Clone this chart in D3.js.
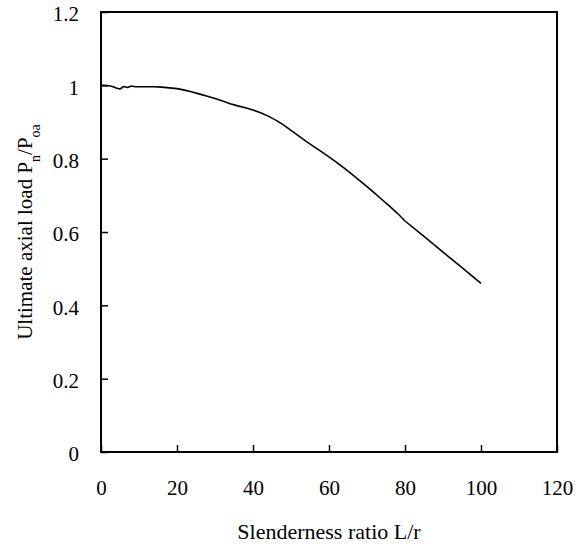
<!DOCTYPE html>
<html>
  <head>
    <meta charset="UTF-8" />
    <script src="https://cdn.jsdelivr.net/npm/d3@7"></script>
    <style>
      body { margin: 0; background: #fff; }
      svg text { font-family: "Liberation Serif", "Times New Roman", serif; fill: #000; }
    </style>
  </head>
  <body>
    <div class="chart"></div>
    <script>
      // values
      let slenderness = [0, 1, 2, 3, 4, 5, 6, 7, 8, 9, 10, 12, 14, 16, 18, 20, 22, 24, 26, 28, 30,
        32, 34, 36, 38, 40, 42, 44, 46, 48, 50, 52, 54, 56, 58, 60, 62, 64, 66, 68, 70,
        72, 74, 76, 78, 80, 85, 90, 95, 100];
      let loadRatio = [1.0, 1.0, 0.999, 0.997, 0.993, 0.99, 0.997, 0.994, 0.998, 0.996, 0.996,
        0.996, 0.996, 0.995, 0.993, 0.991, 0.987, 0.982, 0.976, 0.97, 0.964,
        0.957, 0.95, 0.944, 0.939, 0.933, 0.925, 0.916, 0.905, 0.892, 0.877,
        0.862, 0.847, 0.833, 0.819, 0.805, 0.79, 0.774, 0.758, 0.741, 0.724,
        0.706, 0.688, 0.67, 0.651, 0.63, 0.588, 0.545, 0.503, 0.46];
      let xTicks = [0, 20, 40, 60, 80, 100, 120];
      let yTicks = [0, 0.2, 0.4, 0.6, 0.8, 1, 1.2];

      let width = 578;
      let height = 549;
      let margin = { top: 12, right: 21, bottom: 97, left: 101 };
      let w = width - margin.left - margin.right;
      let h = height - margin.top - margin.bottom;

      let svg = d3
        .select(".chart")
        .append("svg")
        .attr("width", width)
        .attr("height", height);

      let g = svg
        .append("g")
        .attr("transform", `translate(${margin.left},${margin.top})`);

      let x = d3.scaleLinear().domain([0, 120]).range([0, w]);
      let y = d3.scaleLinear().domain([0, 1.2]).range([h, 0]);

      let xAxis = g
        .append("g")
        .attr("transform", `translate(0,${h})`)
        .call(
          d3.axisBottom(x).tickValues(xTicks).tickFormat(d3.format("d"))
            .tickSizeInner(-7).tickSizeOuter(0).tickPadding(28)
        );

      let yAxis = g
        .append("g")
        .call(
          d3.axisLeft(y).tickValues(yTicks).tickFormat((d) => String(+d.toFixed(1)))
            .tickSizeInner(-7).tickSizeOuter(0).tickPadding(22)
        );

      [xAxis, yAxis].forEach((a) => {
        a.attr("font-family", null).attr("font-size", null);
        a.select(".domain").remove();
        a.selectAll(".tick line").attr("stroke", "#000").attr("stroke-width", 1.5);
        a.selectAll(".tick text").style("font-size", "21px");
      });
      yAxis.selectAll(".tick text").attr("dy", "0.42em");

      // frame
      g.append("rect")
        .attr("width", w)
        .attr("height", h)
        .attr("fill", "none")
        .attr("stroke", "#000")
        .attr("stroke-width", 2);

      let line = d3
        .line()
        .x((d, i) => x(slenderness[i]))
        .y((d) => y(d));

      g.append("path")
        .datum(loadRatio)
        .attr("fill", "none")
        .attr("stroke", "#000")
        .attr("stroke-width", 1.6)
        .attr("stroke-linejoin", "round")
        .attr("d", line);

      svg
        .append("text")
        .attr("x", 329)
        .attr("y", 539)
        .attr("text-anchor", "middle")
        .style("font-size", "22px")
        .text("Slenderness ratio L/r");

      let yTitle = svg
        .append("text")
        .attr("transform", "translate(32,232) rotate(-90)")
        .attr("text-anchor", "middle")
        .style("font-size", "21px");
      yTitle.append("tspan").text("Ultimate axial load  P");
      yTitle.append("tspan").attr("baseline-shift", "sub").style("font-size", "14px").text("n");
      yTitle.append("tspan").text("/P");
      yTitle.append("tspan").attr("baseline-shift", "sub").style("font-size", "14px").text("oa");
    </script>
  </body>
</html>
